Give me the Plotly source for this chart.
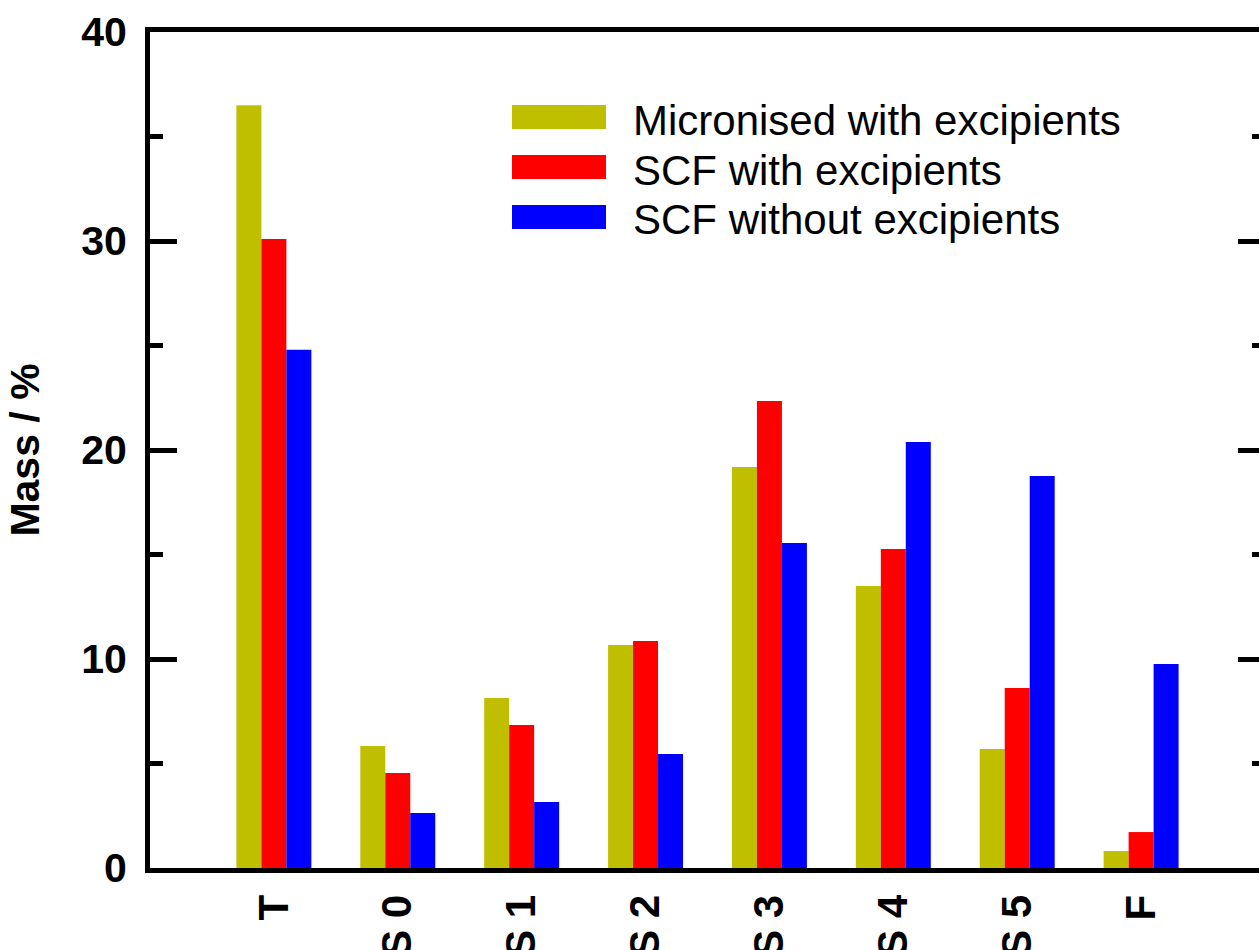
import plotly.graph_objects as go

categories = ["T", "S 0", "S 1", "S 2", "S 3", "S 4", "S 5", "F"]
micronised_with = [36.5, 5.84, 8.13, 10.67, 19.19, 13.49, 5.69, 0.81]
scf_with = [30.1, 4.55, 6.84, 10.86, 22.34, 15.26, 8.61, 1.72]
scf_without = [24.8, 2.63, 3.16, 5.45, 15.55, 20.38, 18.76, 9.76]
series_names = ["Micronised with excipients", "SCF with excipients", "SCF without excipients"]
series_values = [micronised_with, scf_with, scf_without]
colors = ["#BFBF00", "#FF0000", "#0000FF"]

W, H = 1259, 950
ML, MT, MR, MB = 150, 32, 0, 82
PW, PH = W - ML - MR, H - MT - MB

boldfont = "Liberation Sans, Arial, sans-serif"
regular = "Liberation Sans, Arial, sans-serif"

fig = go.Figure()
for name, vals, col in zip(series_names, series_values, colors):
    fig.add_trace(go.Bar(x=categories, y=vals, name=name, marker=dict(color=col, line=dict(width=0)),
                         showlegend=False))
# helper trace so the mirrored right-hand axis is drawn
fig.add_trace(go.Scatter(x=categories, y=micronised_with, yaxis="y2", mode="none",
                         showlegend=False, hoverinfo="skip"))

# manual legend (wide swatches)
def px2x(px):
    return (px - ML) / PW

def py2y(py):
    return (MT + PH - py) / PH

legend_tops = [105, 155, 205]
shapes = []
annotations = []
for name, col, top in zip(series_names, colors, legend_tops):
    shapes.append(dict(type="rect", xref="paper", yref="paper",
                       x0=px2x(512), x1=px2x(606), y0=py2y(top + 24), y1=py2y(top),
                       fillcolor=col, line=dict(width=0)))
    annotations.append(dict(xref="paper", yref="paper", x=px2x(631), y=py2y(top + 15),
                            text=name, showarrow=False, xanchor="left", yanchor="middle",
                            font=dict(family=regular, size=42, color="black")))

fig.update_layout(
    width=W, height=H,
    margin=dict(l=ML, r=MR, t=MT, b=MB, autoexpand=False),
    plot_bgcolor="white", paper_bgcolor="white",
    barmode="group", bargap=0.395, bargroupgap=0,
    shapes=shapes, annotations=annotations,
    xaxis=dict(
        type="category", range=[-1, 8 - 6 / 124],
        showline=True, linewidth=5, linecolor="black", mirror=True,
        ticks="", showgrid=False, zeroline=False,
        tickangle=-90, ticklabelstandoff=5,
        tickfont=dict(family=boldfont, size=42, color="black", weight="bold"),
    ),
    yaxis=dict(
        range=[0, 40], dtick=10, tick0=0,
        showline=True, linewidth=5, linecolor="black",
        ticks="inside", ticklen=27, tickwidth=5, tickcolor="black",
        minor=dict(ticks="inside", dtick=5, ticklen=13, tickwidth=5, tickcolor="black"),
        showgrid=False, zeroline=False, ticklabelstandoff=10,
        tickfont=dict(family=boldfont, size=41, color="black", weight="bold"),
        title=dict(text="Mass / %", standoff=30,
                   font=dict(family=boldfont, size=41, color="black", weight="bold")),
    ),
    yaxis2=dict(
        range=[0, 40], dtick=10, tick0=0, overlaying="y", side="right",
        showline=False, showgrid=False, zeroline=False, showticklabels=False,
        ticks="inside", ticklen=21, tickwidth=5, tickcolor="black",
        minor=dict(ticks="inside", dtick=5, ticklen=7, tickwidth=5, tickcolor="black"),
    ),
)

fig.write_html("out.html")
